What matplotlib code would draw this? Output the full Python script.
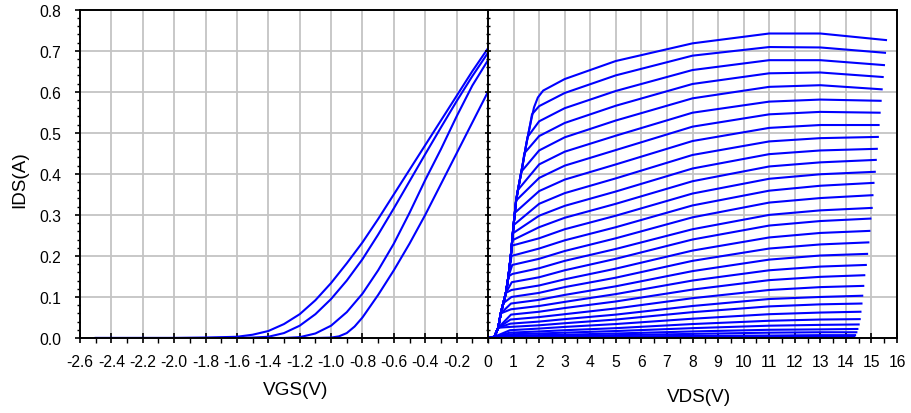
import matplotlib
matplotlib.use("Agg")
import matplotlib.pyplot as plt
from matplotlib.ticker import MultipleLocator

plt.rcParams['font.family'] = ['Liberation Sans', 'DejaVu Sans']

# ---- transfer curves (IDS vs VGS) ----
vgs_a = [-2.5, -2.0, -1.8, -1.7, -1.6, -1.5, -1.4, -1.3, -1.2, -1.1, -1.0,
         -0.9, -0.8, -0.7, -0.6, -0.5, -0.4, -0.3, -0.2, -0.1, 0.0]
ids_a = [0, 0, 0.001, 0.002, 0.003, 0.008, 0.017, 0.034, 0.058, 0.092, 0.134,
         0.182, 0.233, 0.290, 0.350, 0.410, 0.470, 0.530, 0.590, 0.650, 0.706]
vgs_b = [-2.5, -1.6, -1.5, -1.4, -1.3, -1.2, -1.1, -1.0, -0.9, -0.8, -0.7,
         -0.6, -0.5, -0.4, -0.3, -0.2, -0.1, 0.0]
ids_b = [0, 0.0, 0.001, 0.003, 0.012, 0.030, 0.058, 0.095, 0.140, 0.192, 0.252,
         0.316, 0.382, 0.448, 0.513, 0.577, 0.638, 0.695]
vgs_c = [-2.5, -1.3, -1.2, -1.1, -1.0, -0.9, -0.8, -0.7, -0.6, -0.5, -0.4,
         -0.3, -0.2, -0.1, 0.0]
ids_c = [0, 0.0, 0.002, 0.011, 0.030, 0.063, 0.108, 0.165, 0.230, 0.305, 0.385,
         0.460, 0.540, 0.615, 0.677]
vgs_d = [-2.5, -1.1, -1.0, -0.95, -0.9, -0.85, -0.8, -0.7, -0.6, -0.5, -0.4,
         -0.3, -0.2, -0.1, 0.0]
ids_d = [0, 0.0, 0.001, 0.004, 0.012, 0.028, 0.050, 0.105, 0.165, 0.230, 0.300,
         0.375, 0.450, 0.525, 0.600]
transfer = [(vgs_a, ids_a), (vgs_b, ids_b), (vgs_c, ids_c), (vgs_d, ids_d)]

# ---- output curves (IDS vs VDS) ----
# rising edge shared by all curves (top curve's linear region)
env_v = [0.0, 0.25, 0.4, 0.5, 0.6, 0.7, 0.8, 0.9, 1.0, 1.1, 1.2, 1.35, 1.5, 1.65, 1.8, 1.95, 2.16]
env_i = [0.0, 0.003, 0.025, 0.06, 0.085, 0.11, 0.15, 0.205, 0.275, 0.335, 0.37, 0.42, 0.473, 0.52, 0.562, 0.586, 0.603]

knee_v = [2.16, 1.72, 1.55, 1.42, 1.30, 1.16, 1.10, 1.05, 1.00, 0.97, 0.95, 0.93, 0.92, 0.95, 0.95, 0.93,
          0.92, 0.92, 0.90, 0.90, 0.90, 0.88, 0.88, 0.87, 0.86, 0.85, 0.84, 0.83, 0.82, 0.80, 0.80, 0.80]
knee_i = [0.603, 0.545, 0.490, 0.450, 0.405, 0.360, 0.335, 0.305, 0.275, 0.255, 0.238, 0.225, 0.200, 0.178, 0.156, 0.136,
          0.117, 0.100, 0.084, 0.070, 0.057, 0.045, 0.035, 0.027, 0.019, 0.013, 0.009, 0.006, 0.004, 0.002, 0.001, 0.0]

vds_cols = [2, 3, 5, 8, 11, 13]
out_rows = [
    [0.598, 0.631, 0.675, 0.718, 0.742, 0.742],
    [0.565, 0.597, 0.640, 0.688, 0.709, 0.708],
    [0.528, 0.560, 0.602, 0.653, 0.677, 0.677],
    [0.492, 0.524, 0.566, 0.619, 0.645, 0.647],
    [0.457, 0.489, 0.530, 0.584, 0.612, 0.616],
    [0.423, 0.454, 0.493, 0.549, 0.576, 0.581],
    [0.390, 0.420, 0.458, 0.515, 0.545, 0.551],
    [0.358, 0.386, 0.423, 0.480, 0.512, 0.519],
    [0.327, 0.353, 0.389, 0.446, 0.479, 0.487],
    [0.298, 0.322, 0.357, 0.413, 0.448, 0.457],
    [0.270, 0.293, 0.327, 0.382, 0.418, 0.428],
    [0.243, 0.265, 0.298, 0.352, 0.388, 0.399],
    [0.218, 0.238, 0.270, 0.323, 0.359, 0.371],
    [0.193, 0.212, 0.243, 0.294, 0.330, 0.341],
    [0.170, 0.188, 0.217, 0.265, 0.300, 0.311],
    [0.148, 0.165, 0.193, 0.240, 0.274, 0.285],
    [0.128, 0.143, 0.169, 0.213, 0.245, 0.256],
    [0.110, 0.124, 0.147, 0.188, 0.218, 0.228],
    [0.093, 0.105, 0.126, 0.163, 0.191, 0.201],
    [0.078, 0.088, 0.107, 0.140, 0.165, 0.174],
    [0.064, 0.073, 0.089, 0.118, 0.141, 0.149],
    [0.051, 0.058, 0.072, 0.097, 0.117, 0.124],
    [0.040, 0.046, 0.057, 0.078, 0.095, 0.100],
    [0.031, 0.036, 0.045, 0.063, 0.077, 0.082],
    [0.023, 0.027, 0.034, 0.047, 0.058, 0.062],
    [0.016, 0.019, 0.024, 0.034, 0.042, 0.045],
    [0.011, 0.013, 0.017, 0.024, 0.030, 0.032],
    [0.007, 0.008, 0.011, 0.016, 0.020, 0.021],
    [0.004, 0.005, 0.007, 0.010, 0.013, 0.014],
    [0.002, 0.003, 0.004, 0.005, 0.006, 0.007],
    [0.001, 0.001, 0.002, 0.002, 0.003, 0.003],
    [0.000, 0.000, 0.001, 0.001, 0.001, 0.001],
]
end_v = [15.57, 15.53, 15.49, 15.44, 15.40, 15.36, 15.32, 15.28, 15.25, 15.21, 15.17, 15.13, 15.08, 15.04, 15.01, 14.96,
         14.92, 14.88, 14.83, 14.78, 14.72, 14.68, 14.64, 14.61, 14.57, 14.54, 14.50, 14.45, 14.41, 14.36, 14.33, 14.30]
end_i = [0.726, 0.695, 0.665, 0.636, 0.606, 0.578, 0.549, 0.519, 0.490, 0.461, 0.434, 0.405, 0.378, 0.348, 0.317, 0.291,
         0.261, 0.233, 0.205, 0.178, 0.153, 0.127, 0.103, 0.084, 0.064, 0.046, 0.033, 0.022, 0.014, 0.007, 0.003, 0.001]

vgs_ticks = [-2.6, -2.4, -2.2, -2.0, -1.8, -1.6, -1.4, -1.2, -1.0, -0.8, -0.6, -0.4, -0.2]
vgs_labels = ["-2.6", "-2.4", "-2.2", "-2.0", "-1.8", "-1.6", "-1.4", "-1.2", "-1.0",
              "-0.8", "-0.6", "-0.4", "-0.2"]
vds_ticks = list(range(0, 17))
ids_ticks = [0.0, 0.1, 0.2, 0.3, 0.4, 0.5, 0.6, 0.7, 0.8]

BLUE = '#0000ff'
GRID = '#c4c4c4'
FS = 11.3

fig = plt.figure(figsize=(9.11, 4.14), dpi=100)
W, H = 911, 414
bot = 1 - 339 / H
hgt = (339 - 10.7) / H
ax1 = fig.add_axes([80 / W, bot, (488 - 80) / W, hgt])
ax2 = fig.add_axes([488 / W, bot, (897 - 488) / W, hgt])

for xs, ys in transfer:
    ax1.plot(xs, ys, color=BLUE, lw=1.5)

for k in range(len(end_v)):
    xs = [v for v, i in zip(env_v, env_i) if i < knee_i[k] and v < knee_v[k]]
    ys = [i for v, i in zip(env_v, env_i) if i < knee_i[k] and v < knee_v[k]]
    xs.append(knee_v[k]); ys.append(knee_i[k])
    for v, i in zip(vds_cols, out_rows[k]):
        if v > knee_v[k]:
            xs.append(v); ys.append(i)
    xs.append(end_v[k]); ys.append(end_i[k])
    ax2.plot(xs, ys, color=BLUE, lw=1.5)

ax1.set_xlim(-2.6, 0)
ax2.set_xlim(0, 16)
for ax in (ax1, ax2):
    ax.set_ylim(0, 0.8)
    ax.set_yticks(ids_ticks)
    ax.yaxis.set_minor_locator(MultipleLocator(0.02))
    ax.grid(True, which='major', color=GRID, lw=1.3)
    ax.set_axisbelow(True)
    for s in ax.spines.values():
        s.set_linewidth(1.4)

ax1.set_xticks(vgs_ticks)
ax1.set_xticklabels(vgs_labels)
ax1.xaxis.set_minor_locator(MultipleLocator(0.1))
ax1.set_yticklabels(["%.1f" % t for t in ids_ticks])
ax1.spines['right'].set_visible(False)
ax1.tick_params(axis='x', which='major', direction='inout', length=7, width=1.2, labelsize=FS, pad=8)
ax1.tick_params(axis='x', which='minor', direction='out', length=3.4, width=1.0)
ax1.tick_params(axis='y', which='major', direction='out', length=3.4, width=1.2, labelsize=FS, pad=10)
ax1.tick_params(axis='y', which='minor', direction='out', length=2.0, width=1.0)

ax2.set_xticks(vds_ticks)
ax2.set_xticklabels([str(t) for t in vds_ticks])
ax2.xaxis.set_minor_locator(MultipleLocator(0.5))
ax2.set_yticklabels([])
ax2.tick_params(axis='x', which='major', direction='inout', length=7, width=1.2, labelsize=FS, pad=8)
ax2.tick_params(axis='x', which='minor', direction='out', length=3.4, width=1.0)
ax2.tick_params(axis='y', which='major', direction='inout', length=4, width=1.2)
ax2.tick_params(axis='y', which='minor', direction='inout', length=2.5, width=1.0)

fig.text(296 / W, 1 - 391 / H, "VGS(V)", ha='center', va='center', fontsize=13.6)
fig.text(699 / W, 1 - 398 / H, "VDS(V)", ha='center', va='center', fontsize=13.6)
fig.text(20 / W, 1 - 180 / H, "IDS(A)", ha='center', va='center', rotation=90, fontsize=13.6)

fig.savefig("out.png", dpi=100)
